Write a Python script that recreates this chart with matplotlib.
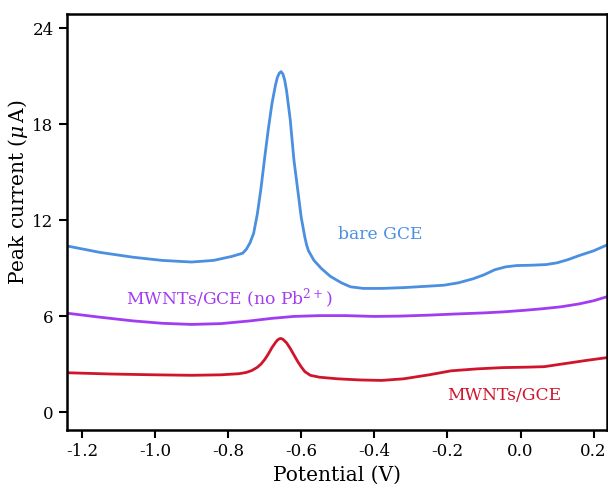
import matplotlib
matplotlib.use('Agg')
import matplotlib.pyplot as plt

# potential (V) / peak current (uA)
bare_x = [-1.24, -1.15, -1.06, -0.98, -0.90, -0.84, -0.79, -0.76, -0.75, -0.74,
          -0.73, -0.72, -0.71, -0.70, -0.69, -0.68, -0.67, -0.665, -0.66, -0.655,
          -0.65, -0.645, -0.64, -0.63, -0.62, -0.61, -0.60, -0.59, -0.585, -0.58,
          -0.565, -0.545, -0.52, -0.49, -0.465, -0.43, -0.38, -0.32, -0.26, -0.21,
          -0.17, -0.13, -0.10, -0.07, -0.04, -0.01, 0.03, 0.07, 0.10, 0.13,
          0.16, 0.20, 0.235]
bare_y = [10.4, 10.0, 9.7, 9.5, 9.4, 9.5, 9.75, 9.95, 10.2, 10.6,
          11.2, 12.4, 14.0, 15.9, 17.7, 19.3, 20.5, 20.95, 21.2, 21.3,
          21.15, 20.75, 20.1, 18.3, 15.8, 14.0, 12.2, 10.95, 10.45, 10.1,
          9.5, 9.0, 8.5, 8.1, 7.85, 7.75, 7.75, 7.8, 7.88, 7.95,
          8.1, 8.35, 8.6, 8.92, 9.1, 9.18, 9.2, 9.24, 9.35, 9.55,
          9.8, 10.1, 10.45]

nopb_x = [-1.24, -1.15, -1.06, -0.98, -0.90, -0.82, -0.74, -0.68, -0.62, -0.55,
          -0.48, -0.40, -0.33, -0.25, -0.18, -0.10, -0.05, 0.01, 0.06, 0.11,
          0.16, 0.20, 0.235]
nopb_y = [6.2, 5.95, 5.72, 5.57, 5.5, 5.55, 5.72, 5.88, 6.0, 6.05,
          6.05, 6.0, 6.02, 6.08, 6.15, 6.22, 6.28, 6.38, 6.48, 6.6,
          6.78, 6.98, 7.22]

mwnt_x = [-1.24, -1.12, -1.0, -0.90, -0.82, -0.77, -0.75, -0.735, -0.72, -0.71,
          -0.70, -0.69, -0.68, -0.67, -0.665, -0.66, -0.655, -0.65, -0.64, -0.63,
          -0.62, -0.61, -0.60, -0.59, -0.575, -0.55, -0.50, -0.44, -0.38, -0.32,
          -0.25, -0.19, -0.12, -0.05, 0.02, 0.065, 0.10, 0.13, 0.18, 0.235]
mwnt_y = [2.48, 2.4, 2.35, 2.32, 2.35, 2.42, 2.5, 2.62, 2.82, 3.02,
          3.3, 3.65, 4.05, 4.38, 4.52, 4.6, 4.62, 4.57, 4.35, 4.0,
          3.6, 3.2, 2.85, 2.55, 2.32, 2.2, 2.1, 2.03, 2.0, 2.1,
          2.35, 2.6, 2.72, 2.8, 2.83, 2.86, 2.98, 3.08, 3.25, 3.42]

x_ticks = [-1.2, -1.0, -0.8, -0.6, -0.4, -0.2, 0.0, 0.2]
y_ticks = [0, 6, 12, 18, 24]

blue = '#4a8fe0'
purple = '#a23cf2'
red = '#d0142c'

plt.rcParams['font.family'] = 'DejaVu Serif'
plt.rcParams['mathtext.fontset'] = 'dejavuserif'
plt.rcParams['axes.unicode_minus'] = False

fig = plt.figure(figsize=(6.08, 4.90), dpi=100)
ax = fig.add_axes([0.110, 0.1224, 0.888, 0.849])

ax.plot(bare_x, bare_y, color=blue, lw=2)
ax.plot(nopb_x, nopb_y, color=purple, lw=2)
ax.plot(mwnt_x, mwnt_y, color=red, lw=2)

ax.text(-0.50, 11.1, 'bare GCE', color=blue, fontsize=12.3, va='center')
ax.text(-1.078, 7.1, r'MWNTs/GCE (no Pb$^{2+}$)', color=purple, fontsize=12.3,
        va='center')
ax.text(-0.202, 1.05, 'MWNTs/GCE', color=red, fontsize=12.3, va='center')

ax.set_xlim(-1.241, 0.236)
ax.set_ylim(-1.1, 24.9)
ax.set_xticks(x_ticks)
ax.set_xticklabels([f'{t:.1f}' for t in x_ticks])
ax.set_yticks(y_ticks)
ax.tick_params(direction='out', length=6, width=1.5, labelsize=12)
for s in ax.spines.values():
    s.set_linewidth(1.8)

ax.set_xlabel('Potential (V)', fontsize=14.5)
ax.set_ylabel(r'Peak current ($\mu\,$A)', fontsize=14.5)
ax.yaxis.set_label_coords(-0.068, 0.572)

fig.savefig('out.png', dpi=100)
